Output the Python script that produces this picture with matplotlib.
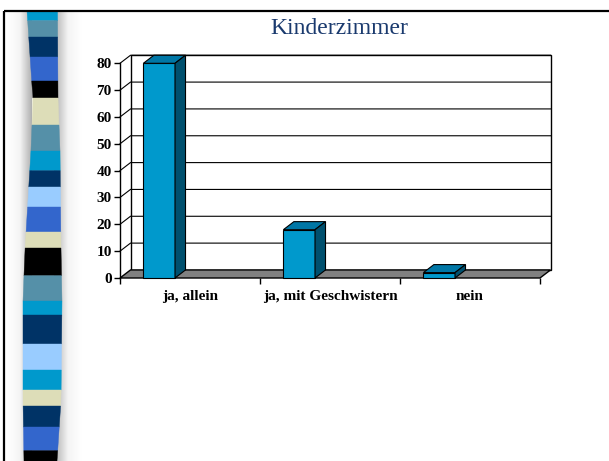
import numpy as np
import matplotlib
matplotlib.use('Agg')
import matplotlib.pyplot as plt
from matplotlib.patches import Polygon, Rectangle
from matplotlib.colors import LinearSegmentedColormap

# Daten
categories = ['ja, allein', 'ja, mit Geschwistern', 'nein']
values = [80, 18, 2]
yticks = list(range(0, 90, 10))
title = 'Kinderzimmer'

# Farben
FRONT = '#0099CC'
TOP = '#0077A6'
SIDE = '#00506E'
FLOOR = '#808080'

# Streifen links (Dekoration): Farbe und Grenzen in Pixel
stripe_colors = ['#0099CC', '#5590A8', '#003366', '#3366CC', '#000000', '#DDDDB8',
                 '#5590A8', '#0099CC', '#003366', '#99CCFF', '#3366CC', '#DDDDB8',
                 '#000000', '#5590A8', '#0099CC', '#003366', '#99CCFF', '#0099CC',
                 '#DDDDB8', '#003366', '#3366CC', '#000000']
stripe_bounds = [11, 20.7, 37, 57, 81, 98, 125, 151, 170.7, 187, 207, 232, 248,
                 275.7, 301, 315, 344, 370, 390, 406, 427, 450.7, 461]
edge_y = [11, 100, 150, 250, 300, 400, 461]
edge_l = [27, 33, 31, 25, 23, 23, 24]
edge_r = [57.5, 58, 60, 61, 62, 61, 57]

W, H = 609, 461
fig = plt.figure(figsize=(W / 100, H / 100), dpi=100)
fig.patch.set_facecolor('white')

# Hintergrund-Achse in Pixelkoordinaten
bg = fig.add_axes([0, 0, 1, 1], zorder=0)
bg.set_xlim(0, W)
bg.set_ylim(H, 0)
bg.axis('off')

grad = np.linspace(0, 1, 60).reshape(1, -1)
shade = LinearSegmentedColormap.from_list('shade', ['#FFFFFF', '#F4F4F4', '#B0B0B0'])
bg.imshow(grad, cmap=shade, extent=(8, 32, H, 11), aspect='auto', zorder=1)
bg.imshow(grad[:, ::-1], cmap=shade, extent=(54, 82, H, 11), aspect='auto', zorder=1)

for c, y0, y1 in zip(stripe_colors, stripe_bounds[:-1], stripe_bounds[1:]):
    l0, l1 = np.interp([y0, y1], edge_y, edge_l)
    r0, r1 = np.interp([y0, y1], edge_y, edge_r)
    bg.add_patch(Polygon([(l0, y0), (r0, y0), (r1, y1), (l1, y1)],
                         closed=True, fc=c, ec=c, lw=0.3, zorder=2))

# Rahmen
bg.plot([4, W], [11, 11], color='black', lw=1.6, zorder=3, solid_capstyle='butt')
bg.plot([4, 4], [11, H], color='black', lw=1.6, zorder=3, solid_capstyle='butt')

# Diagramm
ax = fig.add_axes([120 / W, 183 / H, 420 / W, 214.7 / H], zorder=2)
ax.patch.set_alpha(0)
ax.set_xlim(0, len(categories))
ax.set_ylim(0, 80)
for s in ['top', 'right', 'bottom']:
    ax.spines[s].set_visible(False)
ax.spines['left'].set_linewidth(1.0)

DX, DY = 0.075, 3.0
n = len(categories)

# Rückwand und Boden
ax.add_patch(Rectangle((DX, DY), n, 80, fc='white', ec='black', lw=1.0,
                       clip_on=False, zorder=0.5))
for v in yticks[1:]:
    ax.plot([0, DX, n + DX], [v, v + DY, v + DY], color='black', lw=0.8,
            clip_on=False, zorder=0.8)
ax.add_patch(Polygon([(0, 0), (n, 0), (n + DX, DY), (DX, DY)], closed=True,
                     fc=FLOOR, ec='black', lw=1.0, clip_on=False, zorder=1))

# Säulen
bw, off = 0.226, 0.167
x0s = np.arange(n) + off
ax.bar(x0s, values, width=bw, align='edge', color=FRONT, edgecolor='black',
       linewidth=0.8, zorder=3, clip_on=False)
for x0, v in zip(x0s, values):
    ax.add_patch(Polygon([(x0, v), (x0 + bw, v), (x0 + bw + DX, v + DY), (x0 + DX, v + DY)],
                         closed=True, fc=TOP, ec='black', lw=0.8, zorder=3, clip_on=False))
    ax.add_patch(Polygon([(x0 + bw, 0), (x0 + bw + DX, DY), (x0 + bw + DX, v + DY), (x0 + bw, v)],
                         closed=True, fc=SIDE, ec='black', lw=0.8, zorder=3, clip_on=False))

# Achsen
ax.set_yticks(yticks)
ax.set_xticks(range(n + 1))
ax.set_xticklabels([])
ax.set_xticks(np.arange(n) + 0.5, minor=True)
ax.set_xticklabels(categories, minor=True)
ax.tick_params(axis='y', direction='out', length=4, width=1, pad=2)
ax.tick_params(axis='x', which='major', direction='out', length=4, width=1)
ax.tick_params(axis='x', which='minor', length=0, pad=8.5)
for lbl in ax.get_yticklabels() + ax.get_xticklabels(minor=True):
    lbl.set_fontfamily('Liberation Serif')
    lbl.set_fontweight('bold')
    lbl.set_fontsize(11)

fig.text(339 / W, 1 - 29 / H, title, ha='center', va='center',
         family='Liberation Serif', fontsize=17, color='#1A3A6E')

fig.savefig('out.png', dpi=100)
